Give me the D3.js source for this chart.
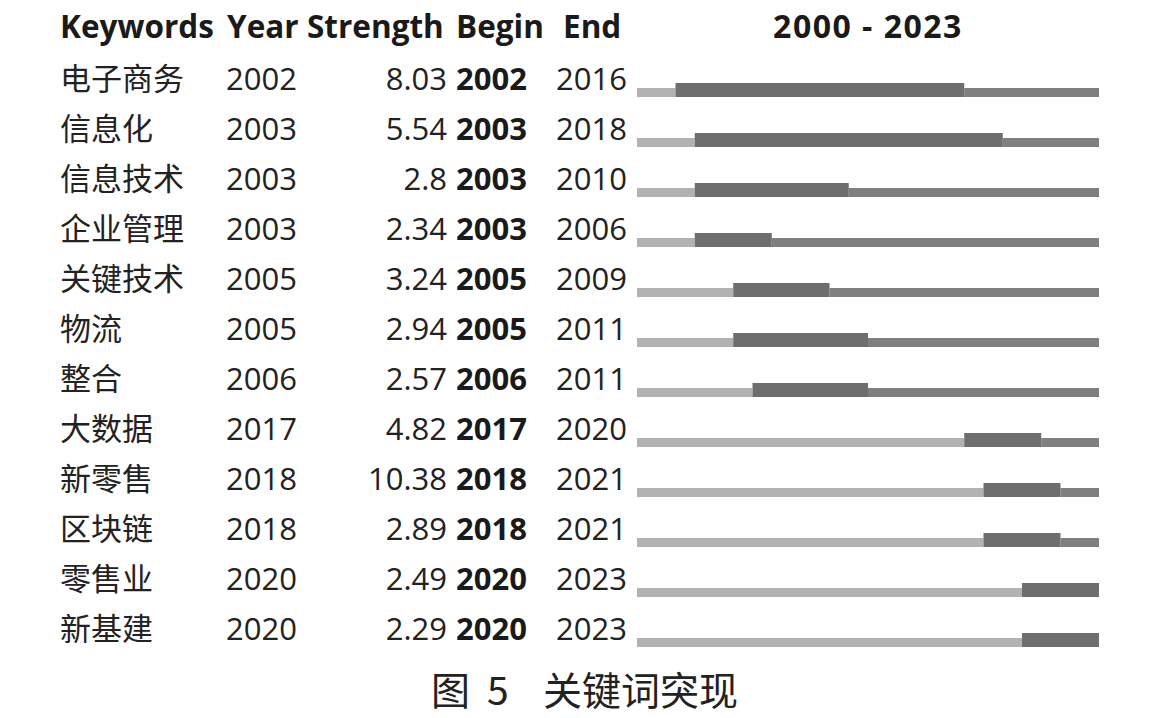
<!DOCTYPE html>
<html><head><meta charset="utf-8">
<script src="https://cdn.jsdelivr.net/npm/d3@7"></script>
<style>body{margin:0;background:#fff}</style>
</head><body>
<script>
const keywords = ["电子商务","信息化","信息技术","企业管理","关键技术","物流","整合","大数据","新零售","区块链","零售业","新基建"];
const years    = [2002,2003,2003,2003,2005,2005,2006,2017,2018,2018,2020,2020];
const strength = ["8.03","5.54","2.8","2.34","3.24","2.94","2.57","4.82","10.38","2.89","2.49","2.29"];
const begins   = [2002,2003,2003,2003,2005,2005,2006,2017,2018,2018,2020,2020];
const ends     = [2016,2018,2010,2006,2009,2011,2011,2020,2021,2021,2023,2023];
const headers  = ["Keywords","Year","Strength","Begin","End"];
const yearRange = [2000, 2023];
const captionParts = ["图", "5", "关键词突现"];

const W = 1162, H = 718;
const svg = d3.select("body").append("svg").attr("width", W).attr("height", H);
const font = "'Open Sans','Noto Sans CJK SC',sans-serif";

const x = d3.scaleLinear().domain([yearRange[0], yearRange[1] + 1]).range([637, 1099]);
const y = d3.scaleBand().domain(d3.range(keywords.length)).range([50, 650]); // 50px per row
const rowBase = i => y(i) + 47; // bar bottom

// header
const hx = [60, 227, 307, 456, 563];
svg.selectAll("text.h").data(headers).join("text")
  .attr("x", (d, i) => hx[i]).attr("y", 38)
  .attr("font-family", font).attr("font-weight", 700).attr("font-size", 31.5)
  .attr("fill", "#1a1a1a").text(d => d);
svg.append("text").attr("x", 868).attr("y", 38).attr("text-anchor", "middle")
  .attr("font-family", font).attr("font-weight", 700).attr("font-size", 32)
  .attr("letter-spacing", 1.5)
  .attr("fill", "#1a1a1a").text(`${yearRange[0]} - ${yearRange[1]}`);

const rows = svg.selectAll("g.row").data(keywords).join("g").attr("class", "row");
const ty = i => y(i) + 40;
rows.append("text").attr("x", 60).attr("y", (d, i) => ty(i))
  .attr("font-family", font).attr("font-size", 31).attr("fill", "#222").text(d => d);
rows.append("text").attr("x", 226).attr("y", (d, i) => ty(i))
  .attr("font-family", font).attr("font-size", 31).attr("fill", "#222").text((d, i) => years[i]);
rows.append("text").attr("x", 447).attr("y", (d, i) => ty(i)).attr("text-anchor", "end")
  .attr("font-family", font).attr("font-size", 31).attr("fill", "#222").text((d, i) => strength[i]);
rows.append("text").attr("x", 456).attr("y", (d, i) => ty(i))
  .attr("font-family", font).attr("font-weight", 700).attr("font-size", 31).attr("fill", "#1a1a1a").text((d, i) => begins[i]);
rows.append("text").attr("x", 556).attr("y", (d, i) => ty(i))
  .attr("font-family", font).attr("font-size", 31).attr("fill", "#222").text((d, i) => ends[i]);

// bars
const thin = 9, thick = 14;
rows.append("rect").attr("x", x(yearRange[0])).attr("width", (d, i) => x(years[i]) - x(yearRange[0]))
  .attr("y", (d, i) => rowBase(i) - thin).attr("height", thin).attr("fill", "#b2b2b2");
rows.append("rect").attr("x", (d, i) => x(ends[i] + 1)).attr("width", (d, i) => Math.max(0, x(yearRange[1] + 1) - x(ends[i] + 1)))
  .attr("y", (d, i) => rowBase(i) - thin).attr("height", thin).attr("fill", "#7f7f7f");
rows.append("rect").attr("x", (d, i) => x(begins[i])).attr("width", (d, i) => x(ends[i] + 1) - x(begins[i]))
  .attr("y", (d, i) => rowBase(i) - thick).attr("height", thick).attr("fill", "#6e6e6e");

// caption
const capX = [431, 487, 543];
svg.selectAll("text.cap").data(captionParts).join("text")
  .attr("x", (d, i) => capX[i]).attr("y", 705)
  .attr("font-family", "'Noto Sans CJK SC',sans-serif").attr("font-size", 39).attr("fill", "#222")
  .text(d => d);
</script>
</body></html>
